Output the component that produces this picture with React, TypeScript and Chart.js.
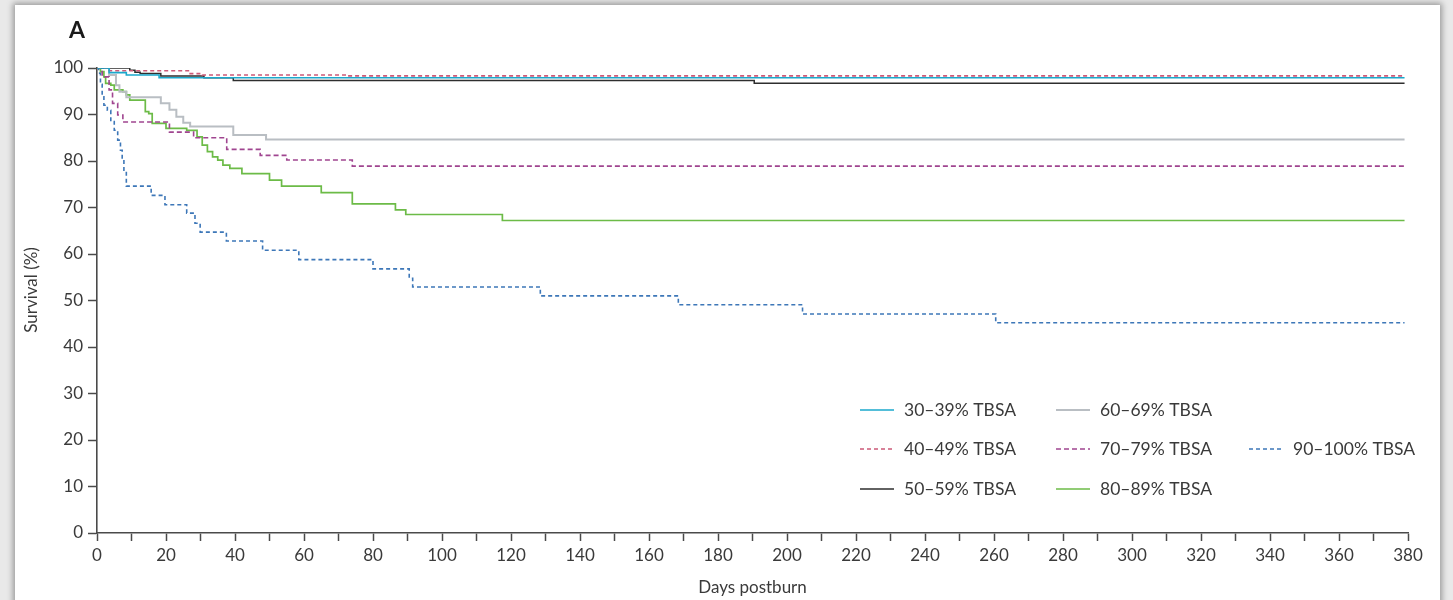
import React, { useEffect, useRef } from "react";
import { Chart, registerables } from "chart.js";

Chart.register(...registerables);

// ---- Data (days postburn, survival %) ----
const groupLabels = [
  "30–39% TBSA",
  "40–49% TBSA",
  "50–59% TBSA",
  "60–69% TBSA",
  "70–79% TBSA",
  "80–89% TBSA",
  "90–100% TBSA",
];

const days3039 = [0, 3.5, 8.5, 18, 379];
const surv3039 = [100, 99.0, 98.5, 97.9, 97.9];

const days4049 = [0, 3, 27, 30.5, 72.5, 379];
const surv4049 = [100, 99.4, 98.8, 98.5, 98.3, 98.3];

const days5059 = [0, 9.5, 11, 12.5, 18.5, 31, 39.5, 190.5, 379];
const surv5059 = [100, 99.5, 99.1, 98.8, 98.3, 97.9, 97.3, 96.7, 96.7];

const days6069 = [0, 3.5, 5.5, 6.5, 8.5, 18.5, 21, 23, 25, 27, 39.5, 49, 379];
const surv6069 = [100, 98.5, 96.3, 94.9, 93.7, 92.4, 91.0, 89.5, 88.2, 87.4, 85.6, 84.6, 84.6];

const days7079 = [0, 1.5, 3.5, 4.5, 6, 7.5, 21, 28, 37.6, 47.3, 55, 74, 379];
const surv7079 = [100, 98.1, 95.3, 92.4, 89.9, 88.4, 86.2, 85.0, 82.5, 81.2, 80.2, 78.9, 78.9];

const days8089 = [0, 1, 2, 2.5, 4, 5, 7.5, 8.5, 9.5, 14, 15, 16, 20, 26, 29, 30.5, 32, 33.5, 35, 36.5, 38.5, 42, 50, 53.5, 65, 74, 86.5, 89.5, 117.5, 379];
const surv8089 = [100, 99.2, 98.1, 96.7, 96.3, 95.3, 94.9, 94.2, 93.1, 90.6, 90.2, 88.1, 87.0, 86.6, 85.2, 83.4, 82.0, 80.9, 80.2, 79.1, 78.4, 77.3, 75.9, 74.6, 73.2, 70.8, 69.5, 68.5, 67.2, 67.2];

const days90100 = [0, 0.5, 1, 1.5, 2, 3, 4, 5, 6, 6.8, 7.3, 7.8, 8.5, 15.7, 19.7, 26, 28.4, 29.9, 37.5, 48, 58.5, 80, 90.5, 91.5, 128.5, 168.5, 204.5, 260.5, 379];
const surv90100 = [100, 98.9, 96.5, 93.8, 92.0, 90.9, 88.5, 86.6, 84.5, 82.3, 80.2, 78.0, 74.6, 72.6, 70.6, 68.8, 66.6, 64.7, 62.8, 60.8, 58.8, 56.8, 54.8, 52.9, 51.0, 49.1, 47.1, 45.2, 45.2];

const allDays = [days3039, days4049, days5059, days6069, days7079, days8089, days90100];
const allSurv = [surv3039, surv4049, surv5059, surv6069, surv7079, surv8089, surv90100];

const xTitle = "Days postburn";
const yTitle = "Survival (%)";
const panelLetter = "A";

// styles
const colors = ["#1aa8cc", "#cc5a78", "#2e2e2e", "#b9bec3", "#a04590", "#6cbb47", "#3d77b8"];
const dashes: number[][] = [[], [4, 3], [], [], [5, 3], [], [4, 3]];
const widths = [1.6, 1.6, 1.5, 2, 1.6, 1.7, 1.6];

// legend grid: [column, row]
const legendPos = [
  [0, 0],
  [0, 1],
  [0, 2],
  [1, 0],
  [1, 1],
  [1, 2],
  [2, 1],
];

const FONT = "Lato, 'Open Sans', sans-serif";
const TEXT = "#3a3a3a";
const AXIS = "#4a4a4a";

const extrasPlugin = {
  id: "extras",
  afterDraw(chart: any) {
    const ctx = chart.ctx;
    ctx.save();
    // panel letter
    ctx.fillStyle = "#1a1a1a";
    ctx.font = `bold 23px ${FONT}`;
    ctx.textBaseline = "middle";
    ctx.textAlign = "left";
    ctx.fillText(panelLetter, 69, 31);

    // y title
    ctx.save();
    ctx.translate(32, 290);
    ctx.rotate(-Math.PI / 2);
    ctx.textAlign = "center";
    ctx.textBaseline = "middle";
    ctx.fillStyle = TEXT;
    ctx.font = `17px ${FONT}`;
    ctx.fillText(yTitle, 0, 0);
    ctx.restore();

    // legend
    const colX = [860, 1056, 1249];
    const rowY = [410, 449, 489];
    const lineLen = 34;
    ctx.font = `17.5px ${FONT}`;
    ctx.textAlign = "left";
    chart.data.datasets.forEach((ds: any, i: number) => {
      const [c, r] = legendPos[i];
      const x = colX[c];
      const y = rowY[r];
      ctx.strokeStyle = ds.borderColor;
      ctx.lineWidth = ds.borderWidth;
      ctx.setLineDash(ds.borderDash || []);
      ctx.beginPath();
      ctx.moveTo(x, y);
      ctx.lineTo(x + lineLen, y);
      ctx.stroke();
      ctx.setLineDash([]);
      ctx.fillStyle = TEXT;
      ctx.textBaseline = "middle";
      ctx.fillText(ds.label, x + lineLen + 10, y);
    });
    ctx.restore();
  },
};

export default function App() {
  const ref = useRef<HTMLCanvasElement | null>(null);

  useEffect(() => {
    if (!ref.current) return;
    const datasets = groupLabels.map((label, i) => ({
      label,
      data: allDays[i].map((d, j) => ({ x: d, y: allSurv[i][j] })),
      borderColor: colors[i],
      backgroundColor: colors[i],
      borderWidth: widths[i],
      borderDash: dashes[i],
      pointRadius: 0,
      stepped: true,
      fill: false,
    }));
    const chart = new Chart(ref.current, {
      type: "line",
      data: { datasets },
      plugins: [extrasPlugin],
      options: {
        responsive: false,
        animation: false,
        devicePixelRatio: 1,
        layout: { padding: { top: 68, right: 45, left: 0, bottom: 0 } },
        plugins: {
          legend: { display: false },
          tooltip: { enabled: false },
        },
        scales: {
          x: {
            type: "linear",
            min: 0,
            max: 380,
            afterFit: (axis: any) => {
              axis.height = 67;
            },
            border: { display: true, color: AXIS, width: 1.6 },
            grid: {
              display: true,
              drawOnChartArea: false,
              drawTicks: true,
              tickLength: 8,
              tickWidth: 1.5,
              color: AXIS,
            },
            ticks: {
              stepSize: 10,
              autoSkip: false,
              maxRotation: 0,
              padding: 4,
              color: TEXT,
              font: { family: FONT, size: 17 },
              callback: (v: any) => (Number(v) % 20 === 0 ? String(v) : ""),
            },
            title: {
              display: true,
              text: xTitle,
              color: TEXT,
              font: { family: FONT, size: 17 },
              padding: { top: 0, bottom: 2 },
            },
          },
          y: {
            type: "linear",
            min: 0,
            max: 100,
            afterFit: (axis: any) => {
              axis.width = 97;
            },
            border: { display: true, color: AXIS, width: 1.6 },
            grid: {
              display: true,
              drawOnChartArea: false,
              drawTicks: true,
              tickLength: 9,
              tickWidth: 1.5,
              color: AXIS,
            },
            ticks: {
              stepSize: 10,
              padding: 5,
              color: TEXT,
              font: { family: FONT, size: 17 },
            },
            title: { display: false },
          },
        },
      } as any,
    });
    return () => chart.destroy();
  }, []);

  return (
    <div
      style={{
        position: "absolute",
        left: 0,
        top: 0,
        width: 1453,
        height: 600,
        overflow: "hidden",
        background: "#e9e9e9",
      }}
    >
      <div
        style={{
          position: "absolute",
          left: 15,
          top: 5,
          width: 1425,
          height: 620,
          background: "#ffffff",
          boxShadow: "0 0 6px 2px rgba(0,0,0,0.35)",
        }}
      />
      <canvas
        ref={ref}
        width={1453}
        height={600}
        style={{ position: "absolute", left: 0, top: 0, width: 1453, height: 600 }}
      />
    </div>
  );
}
